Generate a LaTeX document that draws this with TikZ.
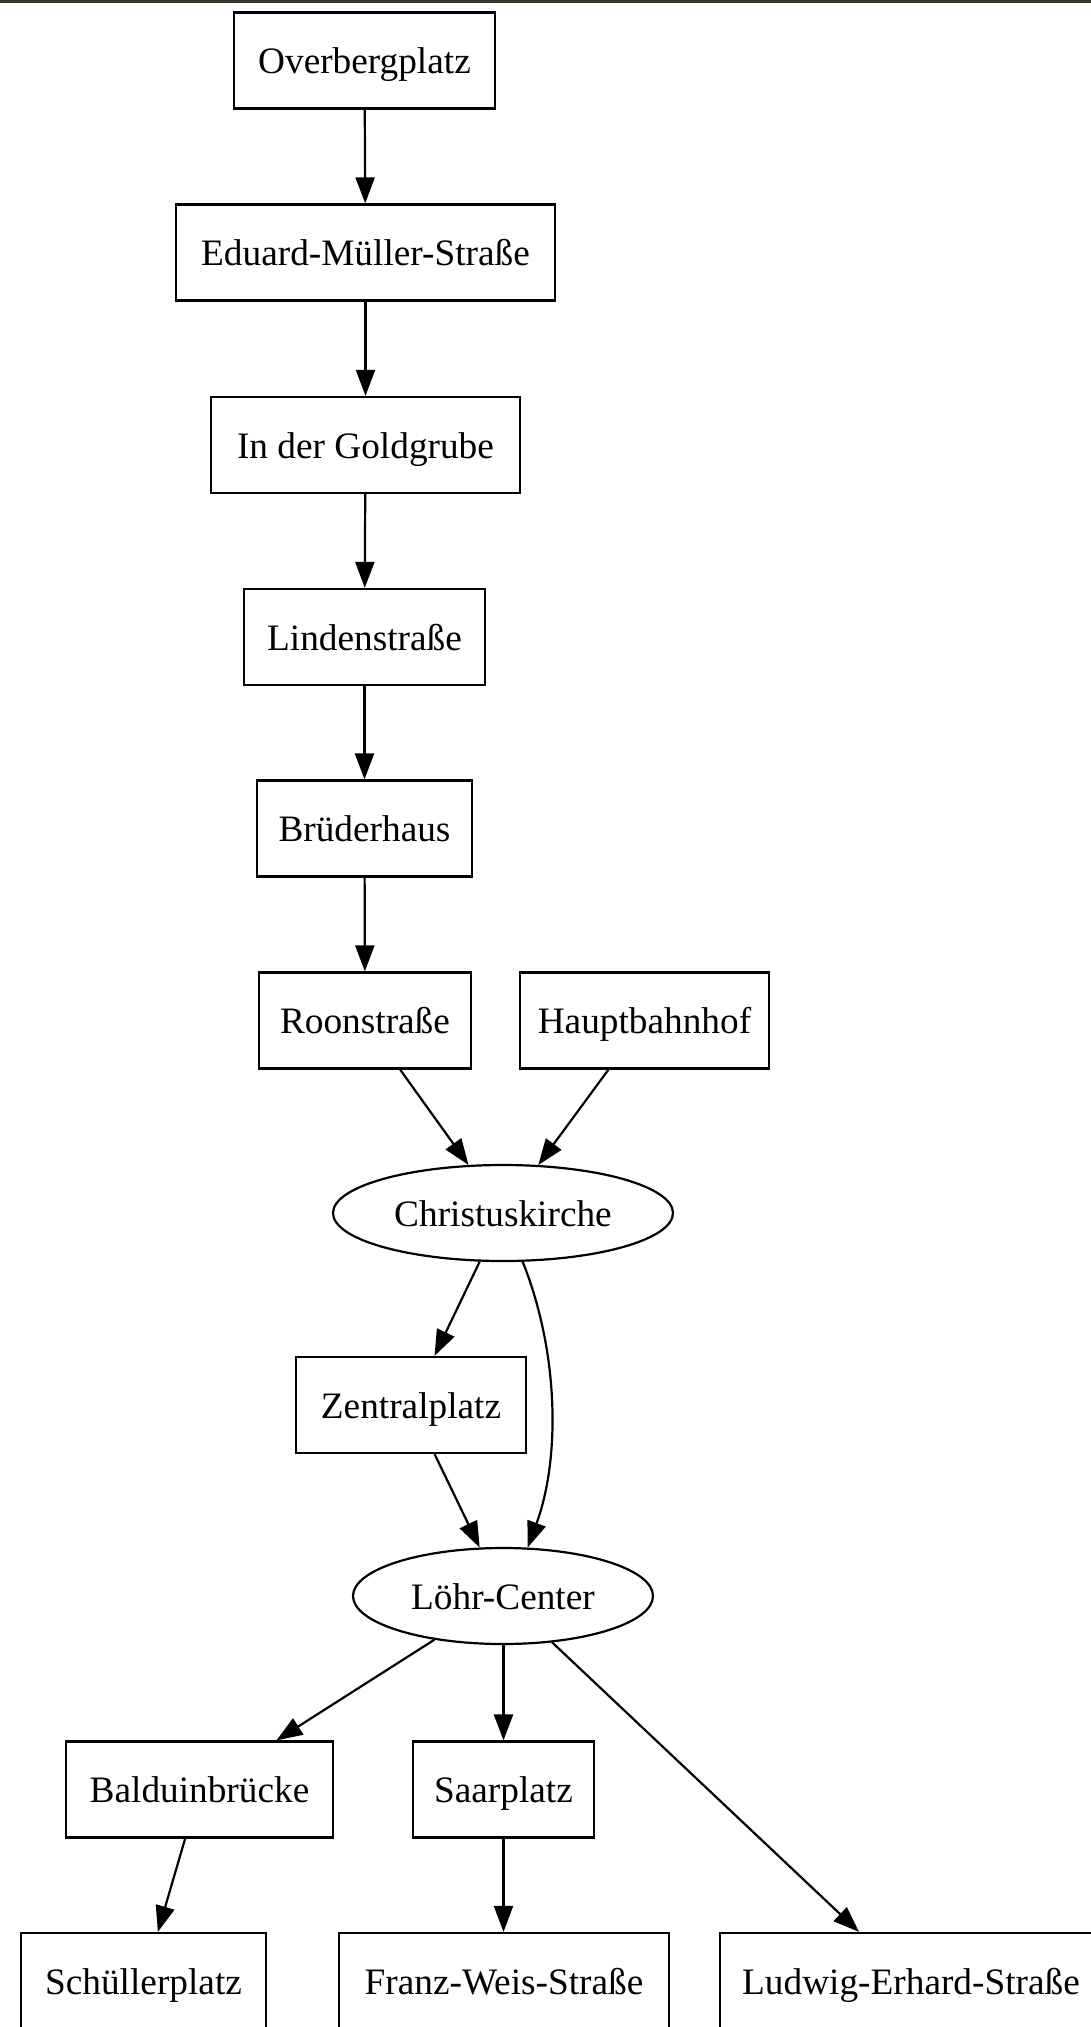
\documentclass[tikz,border=0pt]{standalone}
\usepackage{fontspec}
\setmainfont{Liberation Serif}
\usetikzlibrary{arrows.meta,shapes.geometric}
\begin{document}
\begin{tikzpicture}[x=1pt,y=-1pt,
  lab/.style={font=\fontsize{37.3}{44}\selectfont,text height=26pt,text depth=0pt},
  box/.style={lab,draw,line width=2.2pt,rectangle,minimum height=96pt,inner sep=0pt},
  oval/.style={lab,draw,line width=2.2pt,ellipse,minimum height=96pt,inner sep=0pt},
  arr/.style={line width=2.2pt,-{Triangle[length=26pt,width=19pt]}}]
\useasboundingbox (0,0) rectangle (1091,2027);
\fill[fill={rgb,255:red,55;green,55;blue,45}] (0,0) rectangle (1091,2.6);
% nodes
\node[box,minimum width=261pt] (over) at (364.5,60.5) {Overbergplatz};
\node[box,minimum width=379pt] (edu) at (365.5,252.5) {Eduard-Müller-Straße};
\node[box,minimum width=309pt] (gold) at (365.5,445) {In der Goldgrube};
\node[box,minimum width=241pt] (lind) at (364.5,637) {Lindenstraße};
\node[box,minimum width=215pt] (brud) at (364.5,828.5) {Brüderhaus};
\node[box,minimum width=212pt] (roon) at (365,1020.5) {Roonstraße};
\node[box,minimum width=249pt] (haupt) at (644.5,1020.5) {Hauptbahnhof};
\node[oval,minimum width=340pt] (chr) at (503,1213) {Christuskirche};
\node[box,minimum width=230pt] (zent) at (411,1405) {Zentralplatz};
\node[oval,minimum width=300pt] (lohr) at (503,1596) {Löhr-Center};
\node[box,minimum width=267pt] (bald) at (199.5,1789.5) {Balduinbrücke};
\node[box,minimum width=181pt] (saar) at (503.5,1789.5) {Saarplatz};
\node[box,minimum width=245pt] (schu) at (143.5,1981) {Schüllerplatz};
\node[box,minimum width=330pt] (franz) at (504,1981) {Franz-Weis-Straße};
\node[box,minimum width=382pt] (ludw) at (911,1981) {Ludwig-Erhard-Straße};
% edges
\draw[arr] (over) -- (edu);
\draw[arr] (edu) -- (gold);
\draw[arr] (gold) -- (lind);
\draw[arr] (lind) -- (brud);
\draw[arr] (brud) -- (roon);
\draw[arr] (roon) -- (chr);
\draw[arr] (haupt) -- (chr);
\draw[arr] (chr) -- (zent);
\draw[arr] (chr.-68) .. controls +(36,90) and +(33,-90) .. (lohr.63);
\draw[arr] (zent) -- (lohr);
\draw[arr] (lohr) -- (bald);
\draw[arr] (lohr.south -| saar.north) -- (saar);
\draw[arr] (lohr) -- (ludw);
\draw[arr] (bald) -- (schu);
\draw[arr] (saar.south) -- (saar.south |- franz.north);
\end{tikzpicture}
\end{document}
